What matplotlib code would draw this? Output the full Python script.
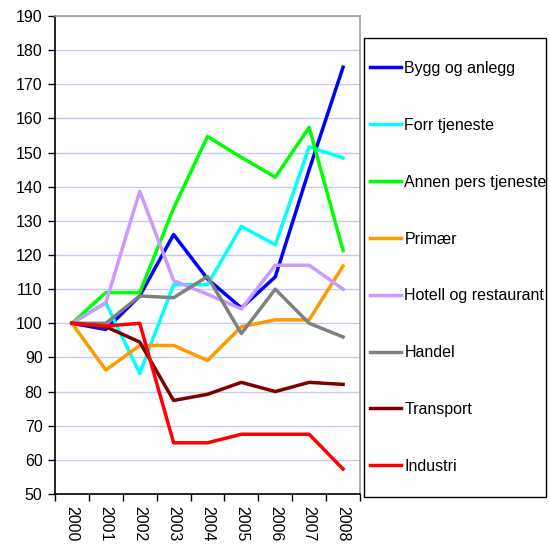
import matplotlib.pyplot as plt
from matplotlib.patches import Rectangle
from matplotlib.ticker import FixedLocator

plt.rcParams['font.family'] = ['Liberation Sans', 'DejaVu Sans']

years = ['2000', '2001', '2002', '2003', '2004', '2005', '2006', '2007', '2008']

bygg = [100, 98.2, 108, 126, 113, 104.5, 113.6, 145, 175]
forr = [100, 106, 85.3, 111.3, 111.3, 128.4, 123, 151.7, 148.4]
annen = [100, 109, 109, 133.7, 154.7, 148.6, 142.8, 157.4, 121.3]
primaer = [100, 86.3, 93.5, 93.5, 89.1, 99, 101, 101, 116.8]
hotell = [100, 106, 138.7, 112.5, 108.5, 104.2, 117, 117, 110]
handel = [100, 100, 108, 107.5, 113.7, 97, 110, 100, 96]
transport = [100, 99, 94.5, 77.4, 79.2, 82.7, 80, 82.7, 82.1]
industri = [100, 99.2, 100, 65, 65, 67.5, 67.5, 67.5, 57.3]

names = ['Bygg og anlegg', 'Forr tjeneste', 'Annen pers tjeneste', 'Primær',
         'Hotell og restaurant', 'Handel', 'Transport', 'Industri']
series = [bygg, forr, annen, primaer, hotell, handel, transport, industri]
colors = ['#0000FF', '#00FFFF', '#00FF00', '#FF9900',
          '#CC99FF', '#808080', '#800000', '#FF0000']

W, H = 550, 545
fig = plt.figure(figsize=(5.5, 5.45), dpi=100)
ax = fig.add_axes([55 / W, 1 - 494 / H, 305 / W, 478 / H])

x = list(range(len(years)))
lines = []
for vals, name, c in zip(series, names, colors):
    ln, = ax.plot(x, vals, color=c, linewidth=2.5, label=name)
    lines.append(ln)

ax.set_xlim(-0.5, 8.5)
ax.set_ylim(50, 190)
ax.set_yticks(range(50, 191, 10))
ax.yaxis.grid(True, color='#C8C8F4', linewidth=1)
ax.set_axisbelow(True)

ax.set_xticks(x)
ax.set_xticklabels(years, rotation=-90)
ax.xaxis.set_minor_locator(FixedLocator([i - 0.5 for i in range(10)]))
ax.tick_params(axis='x', which='major', length=0, pad=9, labelsize=11.5)
ax.tick_params(axis='x', which='minor', length=5, width=1, direction='out')
ax.tick_params(axis='y', length=5, width=1, direction='out', labelsize=11.5, pad=4)

ax.spines['left'].set_color('#000000')
ax.spines['bottom'].set_color('#000000')
ax.spines['top'].set_color('#A0A0A0')
ax.spines['right'].set_color('#A0A0A0')
for s in ax.spines.values():
    s.set_linewidth(1.2)

# legend box
fig.patches.append(Rectangle((364 / W, 1 - 497 / H), 182 / W, 459 / H,
                             transform=fig.transFigure, fill=False,
                             edgecolor='#000000', linewidth=1))
fig.legend(handles=lines, loc='upper left',
           bbox_to_anchor=(370 / W, 1 - 61 / H),
           fontsize=11.5, frameon=False, labelspacing=2.62,
           handlelength=1.95, handletextpad=0.2,
           borderpad=0, borderaxespad=0)

fig.savefig('out.png', dpi=100)
